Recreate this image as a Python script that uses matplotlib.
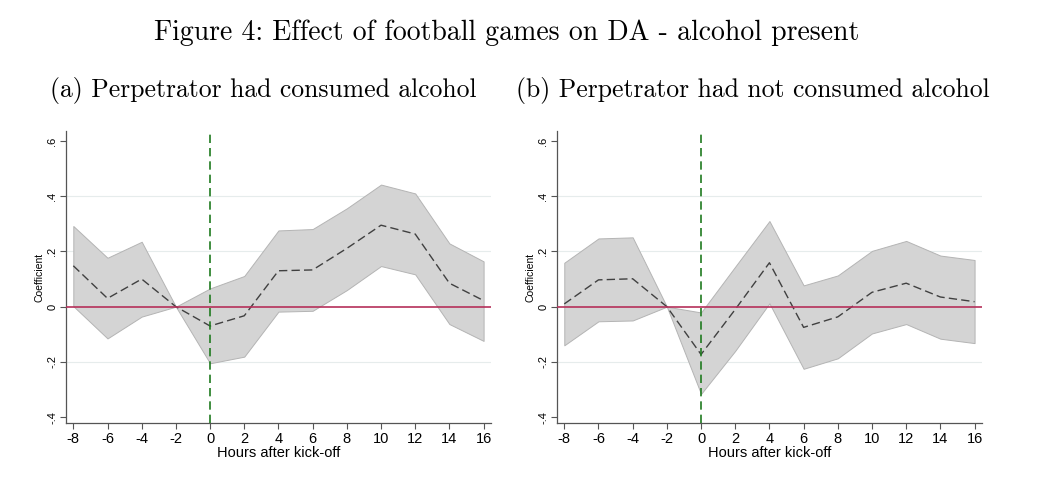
import matplotlib.pyplot as plt

hours = [-8, -6, -4, -2, 0, 2, 4, 6, 8, 10, 12, 14, 16]

# (a) perpetrator had consumed alcohol
coef_a = [0.148, 0.030, 0.100, 0.0, -0.070, -0.033, 0.130, 0.133, 0.211, 0.295, 0.263, 0.085, 0.022]
upper_a = [0.292, 0.177, 0.235, 0.0, 0.066, 0.111, 0.276, 0.281, 0.356, 0.442, 0.410, 0.229, 0.164]
lower_a = [0.002, -0.115, -0.036, 0.0, -0.205, -0.181, -0.018, -0.015, 0.060, 0.147, 0.117, -0.063, -0.124]

# (b) perpetrator had not consumed alcohol
coef_b = [0.010, 0.097, 0.101, 0.0, -0.173, -0.010, 0.159, -0.075, -0.037, 0.052, 0.085, 0.035, 0.018]
upper_b = [0.159, 0.247, 0.251, 0.0, -0.021, 0.145, 0.310, 0.077, 0.113, 0.202, 0.238, 0.185, 0.169]
lower_b = [-0.140, -0.053, -0.050, 0.0, -0.316, -0.160, 0.012, -0.225, -0.187, -0.097, -0.063, -0.116, -0.132]

yticks = [-0.4, -0.2, 0, 0.2, 0.4, 0.6]
ytick_labels = ["-.4", "-.2", "0", ".2", ".4", ".6"]
grid_y = [-0.2, 0.2, 0.4]

panels = [
    ("(a) Perpetrator had consumed alcohol", coef_a, upper_a, lower_a, 0.0633, 0.2535),
    ("(b) Perpetrator had not consumed alcohol", coef_b, upper_b, lower_b, 0.5363, 0.7255),
]

fig = plt.figure(figsize=(10.38, 5.01), dpi=100)
fig.text(0.488, 0.934, "Figure 4: Effect of football games on DA - alcohol present",
         ha="center", va="center", fontsize=20, family="cmr10")

for title, coef, up, lo, left, tx in panels:
    fig.text(tx, 0.82, title, ha="center", va="center", fontsize=18.5, family="cmr10")
    ax = fig.add_axes([left, 0.155, 0.41, 0.5835])
    for gy in grid_y:
        ax.axhline(gy, color="#e6ecec", lw=0.8, zorder=0)
    ax.fill_between(hours, lo, up, facecolor="#d4d4d4", edgecolor="#b4b4b4", lw=0.7, zorder=1)
    ax.plot(hours, coef, color="#404040", lw=1.0, dashes=(6, 3), zorder=2)
    ax.axhline(0, color="#b5305a", lw=1.2, zorder=3)
    ax.axvline(0, color="#1f7a1f", lw=1.2, dashes=(5, 3), zorder=4)
    ax.set_xlim(-8.445, 16.45)
    ax.set_ylim(-0.4225, 0.636)
    ax.set_xticks(hours)
    ax.set_xticklabels([str(h) for h in hours], family="Liberation Sans", fontsize=10.5)
    ax.set_yticks(yticks)
    ax.set_yticklabels(ytick_labels, family="Liberation Sans", fontsize=8,
                       rotation=90, va="center")
    for s in ["top", "right"]:
        ax.spines[s].set_visible(False)
    for s in ["left", "bottom"]:
        ax.spines[s].set_color("#555555")
        ax.spines[s].set_linewidth(0.9)
    ax.tick_params(axis="both", direction="out", length=4, width=0.8, color="#555555", pad=2)
    ax.set_xlabel("Hours after kick-off", family="Liberation Sans", fontsize=10.5, labelpad=0)
    ax.set_ylabel("Coefficient", family="Liberation Sans", fontsize=7.5, labelpad=2)

fig.savefig("out.png", dpi=100, facecolor="white")
